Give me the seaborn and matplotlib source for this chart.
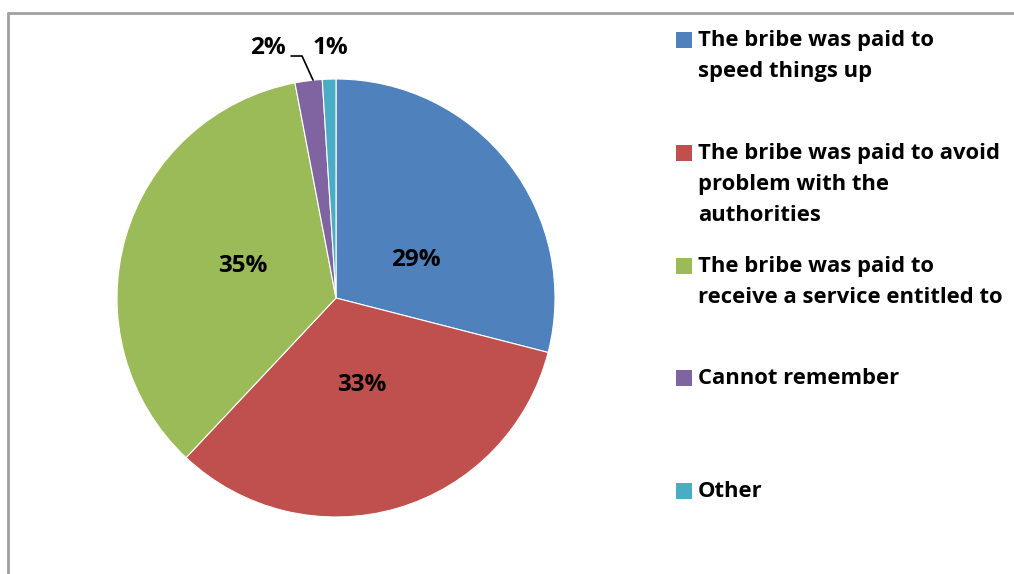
import matplotlib
matplotlib.use("Agg")
import matplotlib.pyplot as plt
from matplotlib.patches import Rectangle
from matplotlib.lines import Line2D
import seaborn as sns

# Survey: reasons given for paying a bribe
categories = [
    "The bribe was paid to\nspeed things up",
    "The bribe was paid to avoid\nproblem with the\nauthorities",
    "The bribe was paid to\nreceive a service entitled to",
    "Cannot remember",
    "Other",
]
shares = [29, 33, 35, 2, 1]
pct_labels = ["29%", "33%", "35%", "2%", "1%"]
colors = ["#4F81BD", "#C0504D", "#9BBB59", "#8064A2", "#4BACC6"]

sns.set_theme(style="white")
plt.rcParams["font.family"] = ["Open Sans", "DejaVu Sans"]
palette = sns.color_palette(colors)

W, H = 1014, 574
fig = plt.figure(figsize=(W / 100, H / 100), dpi=100)
fig.patch.set_facecolor("white")

# chart frame: only top and left edges fall inside the canvas
fig.add_artist(Line2D([8 / W, 8 / W], [0, 1 - 13 / H], transform=fig.transFigure,
                      color="#A0A0A0", lw=2))
fig.add_artist(Line2D([8 / W, 1], [1 - 13 / H, 1 - 13 / H], transform=fig.transFigure,
                      color="#A0A0A0", lw=2))

cx, cy, r = 336, 298, 219
ax = fig.add_axes([(cx - r) / W, (H - cy - r) / H, 2 * r / W, 2 * r / H])
wedges, _ = ax.pie(shares, colors=palette, startangle=90, counterclock=False,
                   radius=1.0, wedgeprops=dict(edgecolor="white", linewidth=0.8))
ax.set_xlim(-1, 1)
ax.set_ylim(-1, 1)
ax.set_aspect("equal")
ax.axis("off")

FS_PCT = 17.5
FS_LEG = 15.8

# inside labels for the three large slices
inner_pos = [(0.365, 0.174), (0.119, -0.397), (-0.425, 0.146)]
for (x, y), t in zip(inner_pos, pct_labels[:3]):
    ax.text(x, y, t, ha="center", va="center", fontsize=FS_PCT, fontweight="bold",
            color="black")

# outside labels for the two thin slices
ax.text(-0.311, 1.142, pct_labels[3], ha="center", va="center", fontsize=FS_PCT,
        fontweight="bold", color="black", clip_on=False)
ax.text(-0.027, 1.142, pct_labels[4], ha="center", va="center", fontsize=FS_PCT,
        fontweight="bold", color="black", clip_on=False)
ax.plot([-0.205, -0.155, -0.105], [1.105, 1.105, 0.995], color="black", lw=1.2,
        clip_on=False)

# legend
entry_tops = [30, 143, 256, 368, 481]
for top, lab, col in zip(entry_tops, categories, palette):
    fig.add_artist(Rectangle((676 / W, 1 - (top + 18) / H), 16 / W, 16 / H,
                             transform=fig.transFigure, facecolor=col, edgecolor="none"))
    fig.text(698 / W, 1 - top / H, lab, ha="left", va="top", fontsize=FS_LEG,
             fontweight="bold", color="black", linespacing=1.62)

fig.savefig("out.png", dpi=100, facecolor="white")
